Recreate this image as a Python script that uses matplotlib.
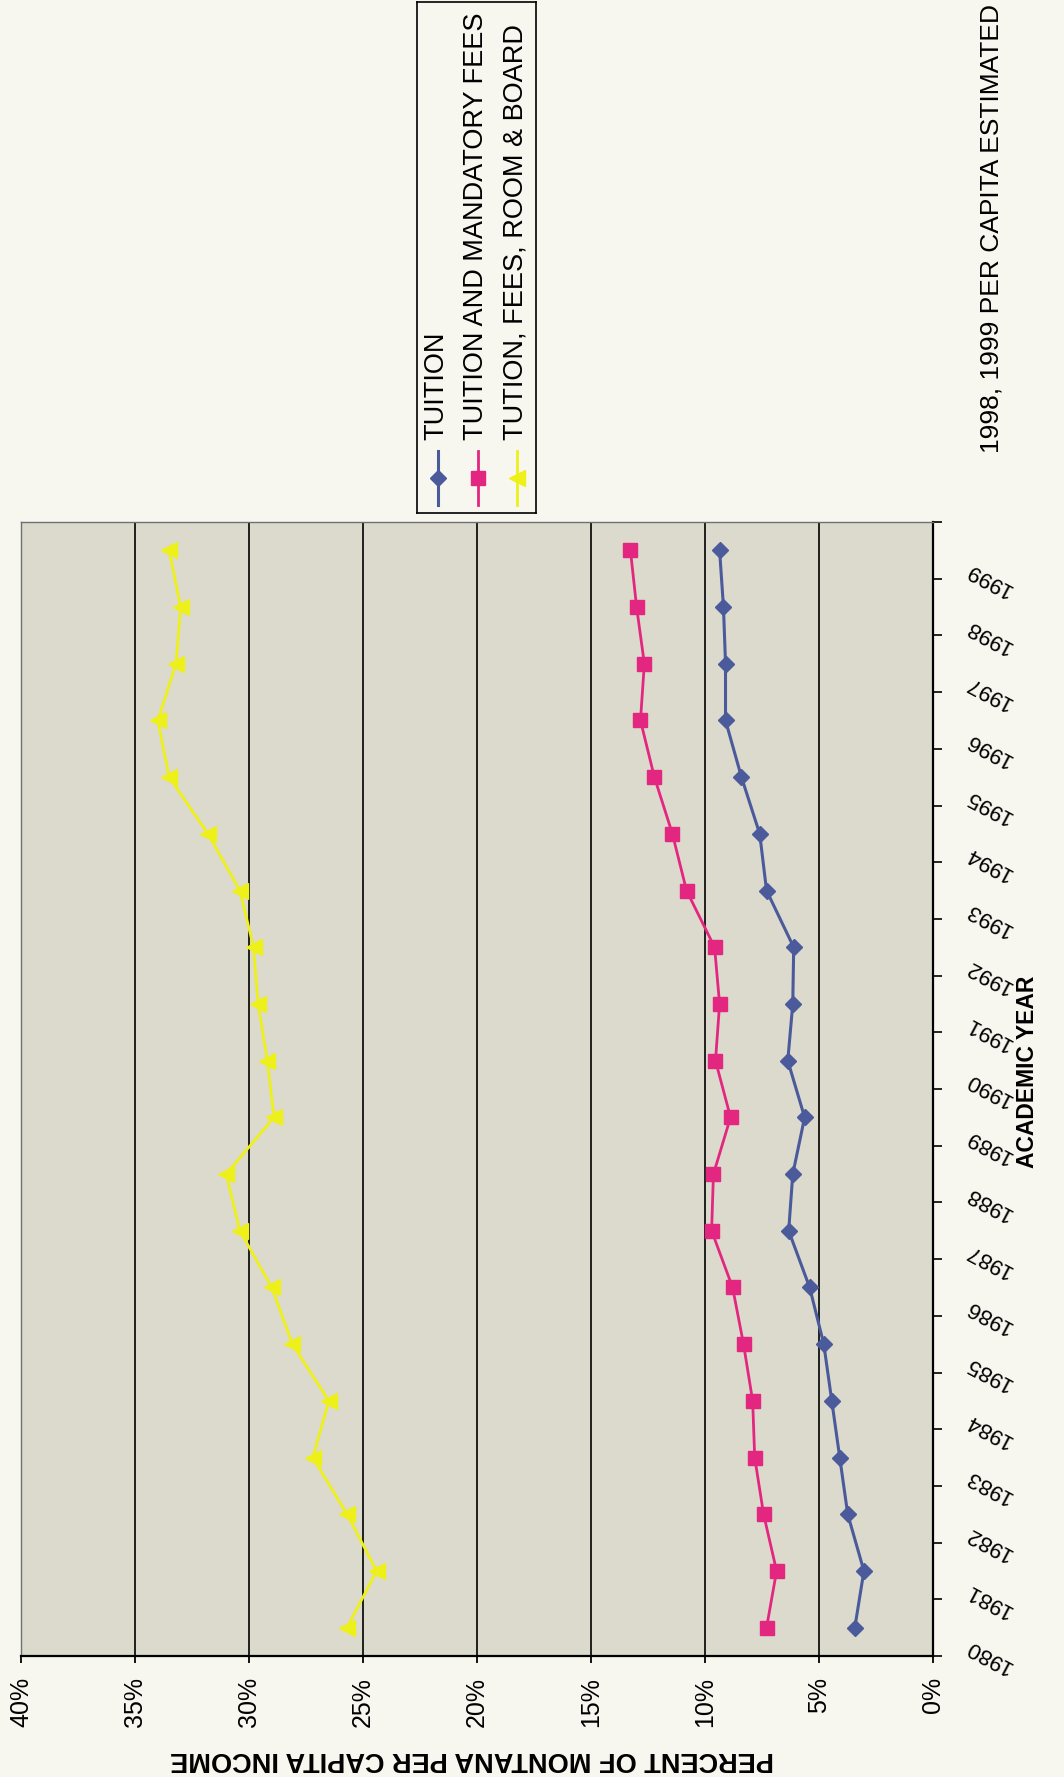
import matplotlib
matplotlib.use("Agg")
import matplotlib.pyplot as plt
import matplotlib.transforms as mtransforms
import numpy as np

plt.rcParams['font.family'] = ['Liberation Sans', 'DejaVu Sans']

# ---------------- data ----------------
years = [str(y) for y in range(1980, 2000)]
tuition = [3.43, 3.03, 3.74, 4.09, 4.44, 4.79, 5.41, 6.33, 6.15, 5.63,
           6.37, 6.15, 6.11, 7.30, 7.60, 8.40, 9.10, 9.10, 9.19, 9.36]
tuition_fees = [7.30, 6.86, 7.43, 7.82, 7.91, 8.31, 8.79, 9.71, 9.63, 8.88,
                9.54, 9.36, 9.58, 10.81, 11.43, 12.22, 12.83, 12.66, 13.00, 13.27]
tuition_room_board = [25.7, 24.4, 25.7, 27.2, 26.5, 28.1, 29.0, 30.4, 31.0, 28.9,
                      29.2, 29.6, 29.8, 30.4, 31.8, 33.5, 34.0, 33.2, 33.0, 33.5]
pct_ticks = [0, 5, 10, 15, 20, 25, 30, 35, 40]
series_names = ["TUITION", "TUITION AND MANDATORY FEES", "TUTION, FEES, ROOM & BOARD"]
x_title = "ACADEMIC YEAR"
y_title = "PERCENT OF MONTANA PER CAPITA INCOME"
note = "1998, 1999 PER CAPITA ESTIMATED"

# ---------------- style ----------------
PAGE = "#f7f7ef"
PLOT_BG = "#dbdacd"
BLUE = "#4a5a9b"
MAGENTA = "#e3267f"
YELLOW = "#eef01a"
styles = [
    dict(color=BLUE, marker="D", ms=8, lw=2.2),
    dict(color=MAGENTA, marker="s", ms=10, lw=2.0),
    dict(color=YELLOW, marker="<", ms=11, lw=2.0),
]

W, H = 1064, 1777
fig = plt.figure(figsize=(W / 100, H / 100), dpi=100, facecolor=PAGE)

# main axes (chart is rotated: value axis horizontal, year axis vertical)
left, right, top, bottom = 21, 933, 522, 1656
ax = fig.add_axes([left / W, (H - bottom) / H, (right - left) / W, (bottom - top) / H])
ax.set_facecolor(PLOT_BG)
idx = np.arange(len(years))
for vals, st in zip([tuition, tuition_fees, tuition_room_board], styles):
    ax.plot(vals, idx, color=st["color"], lw=st["lw"], marker=st["marker"],
            ms=st["ms"], mfc=st["color"], mec=st["color"], zorder=3)

ax.set_xlim(40, 0)
ax.set_ylim(-0.5, len(years) - 0.5)
ax.set_xticks(pct_ticks)
ax.set_xticklabels([f"{v}%" for v in pct_ticks])
ax.tick_params(axis="x", direction="out", length=5, width=1.3, pad=10,
               labelsize=18, labelrotation=90, colors="black")
ax.grid(axis="x", color="black", lw=1.2)
ax.set_axisbelow(True)

ax.yaxis.tick_right()
ax.set_yticks(np.arange(-0.5, len(years), 1.0))
ax.set_yticklabels([])
ax.tick_params(axis="y", direction="out", length=6.5, width=1.2, right=True, left=False)

offset = mtransforms.ScaledTranslation(0.56, -0.29, fig.dpi_scale_trans)
trans = mtransforms.blended_transform_factory(ax.transAxes, ax.transData) + offset
for i, y in enumerate(years):
    ax.text(1.0, i, y, transform=trans, rotation=152, rotation_mode="anchor",
            ha="center", va="center", fontsize=16, clip_on=False)

for s in ["bottom", "right"]:
    ax.spines[s].set_color("black")
    ax.spines[s].set_linewidth(1.6)
for s in ["top", "left"]:
    ax.spines[s].set_color("#707070")
    ax.spines[s].set_linewidth(1.0)

# axis titles
fig.text(472 / W, 1 - 1759 / H, y_title, rotation=180, ha="center", va="center",
         fontsize=19.5, fontweight="bold")
fig.text(1028 / W, 1 - 1072 / H, x_title, rotation=90, ha="center", va="center",
         fontsize=16.5, fontweight="bold")
fig.text(991 / W, 1 - 453 / H, note, rotation=90, ha="center", va="bottom", fontsize=19)

# legend (rotated), drawn in its own small axes
lx0, lx1, ly0, ly1 = 417, 536, 2, 513
lax = fig.add_axes([lx0 / W, (H - ly1) / H, (lx1 - lx0) / W, (ly1 - ly0) / H])
lax.set_facecolor(PAGE)
lax.set_xlim(0, lx1 - lx0)
lax.set_ylim(ly1 - ly0, 0)
lax.set_xticks([])
lax.set_yticks([])
for s in lax.spines.values():
    s.set_color("black")
    s.set_linewidth(1.2)
cols = [21, 61, 100]
for cx, name, st in zip(cols, series_names, styles):
    lax.plot([cx, cx], [449, 503], color=st["color"], lw=st["lw"])
    lax.plot([cx], [476], color=st["color"], marker=st["marker"], ms=st["ms"],
             mfc=st["color"], mec=st["color"])
    lax.text(cx - 2, 438, name, rotation=90, ha="center", va="bottom", fontsize=19.5)

fig.savefig("out.png", dpi=100, facecolor=PAGE)
